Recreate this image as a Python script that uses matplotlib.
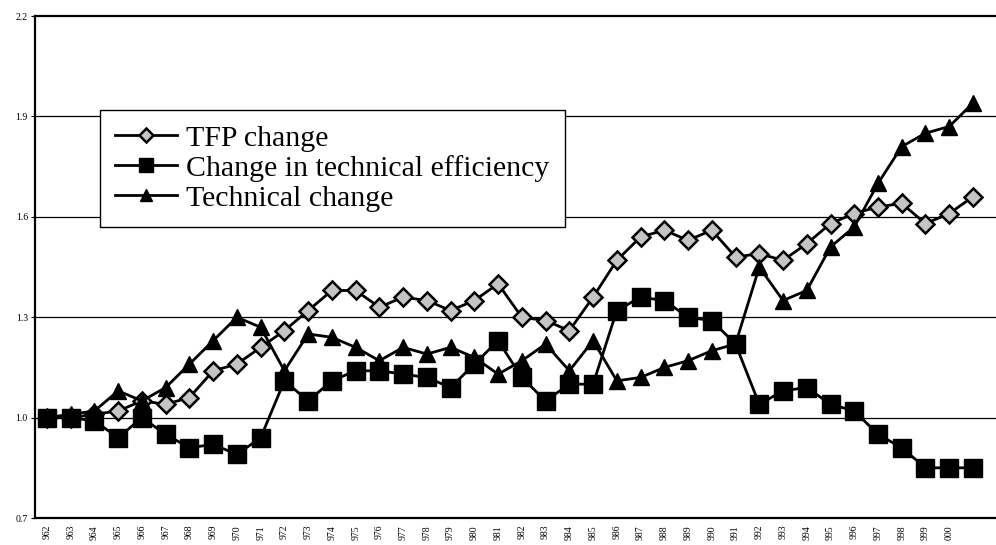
import matplotlib
matplotlib.use("Agg")
import matplotlib.pyplot as plt

# years 1962-2001, values
years = list(range(1962, 2002))
tfp = [1.00, 1.00, 1.01, 1.02, 1.05, 1.04, 1.06, 1.14, 1.16, 1.21,
       1.26, 1.32, 1.38, 1.38, 1.33, 1.36, 1.35, 1.32, 1.35, 1.40,
       1.30, 1.29, 1.26, 1.36, 1.47, 1.54, 1.56, 1.53, 1.56, 1.48,
       1.49, 1.47, 1.52, 1.58, 1.61, 1.63, 1.64, 1.58, 1.61, 1.66]
eff = [1.00, 1.00, 0.99, 0.94, 1.00, 0.95, 0.91, 0.92, 0.89, 0.94,
       1.11, 1.05, 1.11, 1.14, 1.14, 1.13, 1.12, 1.09, 1.16, 1.23,
       1.12, 1.05, 1.10, 1.10, 1.32, 1.36, 1.35, 1.30, 1.29, 1.22,
       1.04, 1.08, 1.09, 1.04, 1.02, 0.95, 0.91, 0.85, 0.85, 0.85]
tech = [1.00, 1.01, 1.02, 1.08, 1.05, 1.09, 1.16, 1.23, 1.30, 1.27,
        1.14, 1.25, 1.24, 1.21, 1.17, 1.21, 1.19, 1.21, 1.18, 1.13,
        1.17, 1.22, 1.14, 1.23, 1.11, 1.12, 1.15, 1.17, 1.20, 1.22,
        1.45, 1.35, 1.38, 1.51, 1.57, 1.70, 1.81, 1.85, 1.87, 1.94]
tick_years = list(range(1962, 2001))
tick_labels = [str(y)[1:] for y in tick_years]
y_ticks = [0.7, 1.0, 1.3, 1.6, 1.9, 2.2]

plt.rcParams['font.family'] = ['Liberation Serif', 'DejaVu Serif']

fig = plt.figure(figsize=(9.96, 5.45), dpi=100)
ax = fig.add_axes([0.035, 0.0495, 0.965, 0.921])

# horizontal grid lines
for v in y_ticks[1:-1]:
    ax.axhline(v, color='black', lw=0.9, zorder=1)

ax.plot(years, tfp, color='black', lw=2, marker='D', markersize=9,
        markerfacecolor='#c4c4c4', markeredgecolor='black', markeredgewidth=1.8,
        label='TFP change', zorder=3)
ax.plot(years, eff, color='black', lw=2, marker='s', markersize=13,
        markerfacecolor='black', markeredgecolor='black',
        label='Change in technical efficiency', zorder=4)
ax.plot(years, tech, color='black', lw=2, marker='^', markersize=11,
        markerfacecolor='black', markeredgecolor='black',
        label='Technical change', zorder=5)

ax.set_xlim(1961.49, 2001.97)
ax.set_ylim(0.7, 2.2)
ax.set_yticks(y_ticks)
ax.set_yticklabels(['%.1f' % v for v in y_ticks], fontsize=7)
ax.set_xticks(tick_years)
ax.set_xticklabels(tick_labels, rotation=90, fontsize=7)
ax.tick_params(axis='x', length=0, pad=5)
ax.tick_params(axis='y', length=3, pad=2)

for side in ['left', 'bottom', 'top']:
    ax.spines[side].set_linewidth(1.6)
ax.spines['right'].set_visible(False)

leg = ax.legend(loc='upper left', bbox_to_anchor=(0.0676, 0.8127),
                borderaxespad=0, fontsize=21.5, frameon=True, fancybox=False,
                edgecolor='black', framealpha=1, labelspacing=0.1,
                handlelength=2.1, handletextpad=0.3, borderpad=0.5,
                markerscale=0.8)
leg.get_frame().set_linewidth(1.0)
leg.set_zorder(10)

fig.savefig('out.png', dpi=100)
